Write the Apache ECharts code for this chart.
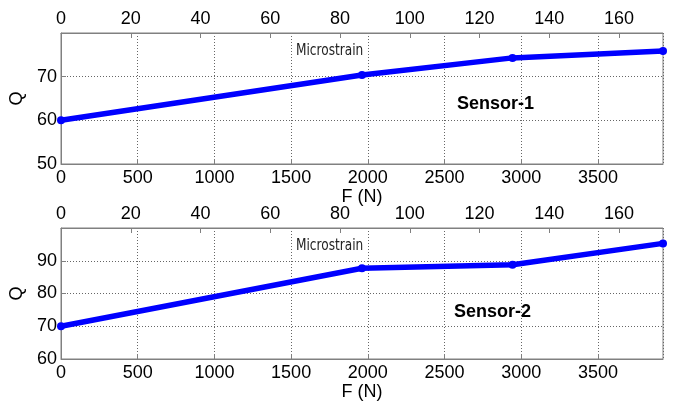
<!DOCTYPE html>
<html>
<head>
<meta charset="utf-8">
<script src="https://cdn.jsdelivr.net/npm/echarts@6/dist/echarts.min.js"></script>
<style>
  html, body { margin: 0; padding: 0; background: #fff; }
  #chart { width: 674px; height: 404px; }
</style>
</head>
<body>
<div id="chart"></div>
<script>
// force applied (N) and Q factor of the two sensors
var forceN = [0, 1962, 2943, 3924];
var qSensor1 = [60, 70.4, 74.3, 75.9];
var qSensor2 = [70, 87.7, 88.8, 95.3];
// top axis range (microstrain) matching forceN max
var forceMax = 3924;
var microMax = 172.6;

var axisGray = "#808080";
var font = "Liberation Sans, Arial, sans-serif";
var fs = 18;

function pairs(ys) {
  return forceN.map(function (x, i) { return [x, ys[i]]; });
}

function plain(v) { return String(v); }

function bottomAxis(gi) {
  return {
    gridIndex: gi, type: "value", position: "bottom",
    min: 0, max: forceMax, interval: 500,
    name: "F (N)", nameLocation: "middle", nameGap: 21,
    nameTextStyle: { color: "#000", fontSize: fs, fontFamily: font },
    axisLine: { show: true, lineStyle: { color: axisGray } },
    axisTick: { show: true, inside: true, length: 5, lineStyle: { color: axisGray } },
    axisLabel: { color: "#000", fontSize: fs, fontFamily: font, margin: 5, showMaxLabel: false, formatter: plain },
    splitLine: { show: true, lineStyle: { color: "#666", type: [1, 2], width: 1 } }
  };
}

function topAxis(gi) {
  return {
    gridIndex: gi, type: "value", position: "top",
    min: 0, max: microMax, interval: 20,
    axisLine: { show: true, lineStyle: { color: axisGray } },
    axisTick: { show: true, inside: true, length: 5, lineStyle: { color: axisGray } },
    axisLabel: { color: "#000", fontSize: fs, fontFamily: font, margin: 5, showMaxLabel: false, formatter: plain },
    splitLine: { show: false }
  };
}

function leftAxis(gi, mn, mx) {
  return {
    gridIndex: gi, type: "value",
    min: mn, max: mx, interval: 10,
    name: "Q", nameLocation: "middle", nameGap: 26, nameRotate: 90,
    nameTextStyle: { color: "#000", fontSize: fs, fontFamily: font },
    axisLine: { show: true, lineStyle: { color: axisGray } },
    axisTick: { show: true, inside: true, length: 5, lineStyle: { color: axisGray } },
    axisLabel: { color: "#000", fontSize: fs, fontFamily: font, margin: 4, showMaxLabel: false, formatter: plain },
    splitLine: { show: true, lineStyle: { color: "#666", type: [1, 2], width: 1 } }
  };
}

function lineSeries(xi, yi, ys) {
  return {
    type: "line", xAxisIndex: xi, yAxisIndex: yi,
    data: pairs(ys),
    symbol: "circle", symbolSize: 8,
    itemStyle: { color: "#0000ff" },
    lineStyle: { color: "#0000ff", width: 5.5 },
    animation: false
  };
}

function note(txt, x, y) {
  return {
    type: "text", x: x, y: y, scaleX: 0.9, z: 10,
    style: { text: txt, fill: "#222", font: "15px 'DejaVu Sans Condensed', sans-serif" }
  };
}

var chart = echarts.init(document.getElementById("chart"), null, { renderer: "canvas" });
chart.setOption({
  backgroundColor: "#fff",
  animation: false,
  title: [
    { text: "Sensor-1", left: 452, top: 90,
      textStyle: { fontSize: 18, fontWeight: "bold", color: "#000", fontFamily: font } },
    { text: "Sensor-2", left: 449, top: 298,
      textStyle: { fontSize: 18, fontWeight: "bold", color: "#000", fontFamily: font } }
  ],
  graphic: [note("Microstrain", 296, 44), note("Microstrain", 296, 239)],
  grid: [
    { left: 61, right: 11, top: 33, height: 131, show: true, borderColor: axisGray, borderWidth: 1, backgroundColor: "#fff" },
    { left: 61, right: 11, top: 228, height: 131, show: true, borderColor: axisGray, borderWidth: 1, backgroundColor: "#fff" }
  ],
  xAxis: [bottomAxis(0), topAxis(0), bottomAxis(1), topAxis(1)],
  yAxis: [leftAxis(0, 50, 80), leftAxis(1, 60, 100)],
  series: [lineSeries(0, 0, qSensor1), lineSeries(2, 1, qSensor2)]
});
</script>
</body>
</html>
